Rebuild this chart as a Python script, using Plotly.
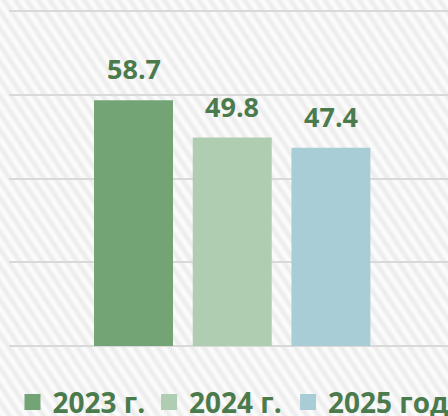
import base64
import plotly.graph_objects as go

# ---- data ----
years = ["2023 г.", "2024 г.", "2025 год"]
values = [58.7, 49.8, 47.4]
colors = ["#72a476", "#afcdb0", "#a8cdd7"]
label_color = "#4b7b4d"
y_ticks = [0, 20, 40, 60, 80]

W, H = 448, 416
ML, MR, MT, MB = 9, 0, 5, 68
PW, PH = W - ML - MR, H - MT - MB

# striped background as an svg image
svg = (
    f"<svg xmlns='http://www.w3.org/2000/svg' width='{W}' height='{H}'>"
    "<defs><pattern id='p' width='9.5' height='40' patternUnits='userSpaceOnUse' "
    "patternTransform='rotate(-34)'>"
    "<rect width='9.5' height='40' fill='#fcfcfc'/>"
    "<rect x='1' width='4.5' height='40' fill='#ececec'/></pattern>"
    "<filter id='b'><feGaussianBlur stdDeviation='1.1'/></filter></defs>"
    f"<rect width='{W}' height='{H}' fill='#fcfcfc'/>"
    f"<rect x='-10' y='-10' width='{W+20}' height='{H+20}' fill='url(#p)' filter='url(#b)'/></svg>"
)
src = "data:image/svg+xml;base64," + base64.b64encode(svg.encode()).decode()

fig = go.Figure()
legend_x = [0.0080, 0.3190, 0.6356]
for i, (yr, v, c) in enumerate(zip(years, values, colors)):
    lg = "legend" if i == 0 else f"legend{i+1}"
    fig.add_trace(go.Bar(x=[yr], y=[v], marker_color=c, marker_line_width=0,
                         showlegend=False, hoverinfo="skip"))
    fig.add_trace(go.Scatter(x=[None], y=[None], mode="markers", name=yr,
                             marker=dict(symbol="square", size=17, color=c),
                             legend=lg, showlegend=True, hoverinfo="skip"))

for yr, v in zip(years, values):
    fig.add_annotation(x=yr, y=v, text=f"{v}", showarrow=False, yanchor="bottom",
                       yshift=11, font=dict(family="Open Sans", size=27,
                                            color=label_color, weight=700))

leg_common = dict(orientation="h", xanchor="left", yanchor="middle", y=-0.158,
                  itemsizing="trace", bgcolor="rgba(0,0,0,0)",
                  font=dict(family="Open Sans", size=28, color=label_color, weight=700))
fig.update_layout(
    width=W, height=H,
    margin=dict(l=ML, r=MR, t=MT, b=MB, autoexpand=False),
    paper_bgcolor="#fcfcfc", plot_bgcolor="rgba(0,0,0,0)",
    barmode="overlay", bargap=0.2,
    legend=dict(x=legend_x[0], **leg_common),
    legend2=dict(x=legend_x[1], **leg_common),
    legend3=dict(x=legend_x[2], **leg_common),
    images=[dict(source=src, xref="paper", yref="paper",
                 x=-ML / PW, y=1 + MT / PH, sizex=W / PW, sizey=H / PH,
                 xanchor="left", yanchor="top", sizing="stretch", layer="below")],
    xaxis=dict(type="category", categoryorder="array", categoryarray=years,
               range=[-1.2614, 3.186], showticklabels=False, showgrid=False,
               zeroline=False, showline=False, ticks=""),
    yaxis=dict(range=[-0.5, 81.5], tickvals=y_ticks, showticklabels=False,
               showgrid=True, gridcolor="#d9d9d9", gridwidth=2,
               zeroline=False, showline=False, ticks=""),
    showlegend=True,
)

fig.write_html("out.html", config={"displayModeBar": False},
               post_script="document.body.style.margin='0';"
                           "document.body.style.overflow='hidden';")
